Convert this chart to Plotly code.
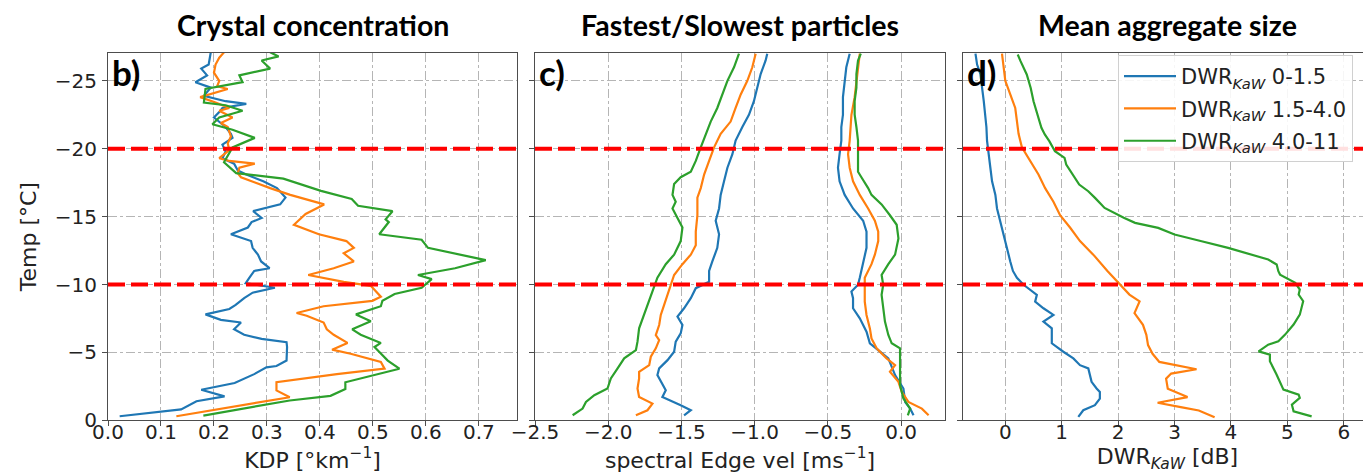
import plotly.graph_objects as go

# ---------------- data ----------------
# Panel b) KDP [deg/km] vs temperature
t_kdp_lo = [-0.3, -0.8, -1.4, -1.76, -2.25, -2.75, -3.4, -3.9, -4.0, -4.4, -5.4, -5.75, -6.0, -6.3, -6.7, -7.2, -7.4, -7.8, -8.2, -8.5, -9.0, -9.4, -9.76, -10.1, -10.5, -11.0, -11.2, -11.7, -12.2, -12.7, -13.2, -13.7, -14.2, -14.6, -14.9, -15.4, -15.9, -16.4, -17.1, -17.6, -18.1, -18.4, -18.9, -19.3, -19.8, -20.3, -20.8, -21.1, -21.6, -21.9, -22.3, -22.7, -23.0, -23.3, -23.5, -23.9, -24.5, -24.9, -25.4, -25.9, -26.2, -27.1]
kdp_lo = [0.022, 0.138, 0.167, 0.22, 0.176, 0.239, 0.276, 0.299, 0.318, 0.337, 0.338, 0.337, 0.29, 0.257, 0.238, 0.251, 0.213, 0.184, 0.229, 0.241, 0.257, 0.273, 0.315, 0.26, 0.267, 0.276, 0.305, 0.289, 0.283, 0.273, 0.27, 0.232, 0.264, 0.271, 0.29, 0.274, 0.325, 0.335, 0.319, 0.293, 0.261, 0.245, 0.238, 0.216, 0.222, 0.216, 0.235, 0.232, 0.222, 0.213, 0.2, 0.21, 0.216, 0.261, 0.222, 0.181, 0.194, 0.165, 0.187, 0.176, 0.19, 0.194]

t_kdp_mid = [-0.3, -0.7, -1.2, -1.7, -2.2, -2.8, -3.4, -3.8, -4.3, -4.9, -5.2, -5.7, -6.3, -6.7, -7.2, -7.7, -7.9, -8.4, -8.8, -9.1, -9.9, -10.2, -10.7, -11.2, -11.7, -12.3, -12.7, -13.2, -13.7, -14.4, -15.2, -15.9, -16.6, -17.1, -17.9, -18.2, -18.6, -18.9, -19.1, -19.3, -19.9, -20.4, -20.9, -21.6, -21.9, -22.3, -22.8, -23.0, -23.4, -23.8, -24.4, -24.6, -25.0, -25.6, -26.2, -26.7, -27.1]
kdp_mid = [0.129, 0.19, 0.267, 0.343, 0.318, 0.318, 0.432, 0.522, 0.515, 0.458, 0.423, 0.452, 0.426, 0.413, 0.407, 0.375, 0.356, 0.407, 0.499, 0.515, 0.496, 0.445, 0.378, 0.426, 0.464, 0.445, 0.464, 0.45, 0.398, 0.351, 0.373, 0.408, 0.344, 0.306, 0.251, 0.245, 0.248, 0.277, 0.229, 0.21, 0.229, 0.226, 0.232, 0.226, 0.213, 0.235, 0.21, 0.229, 0.203, 0.174, 0.226, 0.206, 0.21, 0.2, 0.203, 0.21, 0.219]

t_kdp_hi = [-0.35, -1.46, -1.8, -2.3, -2.8, -3.4, -3.8, -4.4, -5.4, -5.7, -6.3, -6.7, -7.3, -7.8, -8.4, -8.8, -9.3, -9.76, -10.4, -10.7, -11.2, -11.8, -12.3, -12.7, -13.3, -13.7, -14.6, -14.8, -15.4, -15.8, -16.3, -16.9, -17.8, -18.2, -19.0, -19.7, -20.1, -20.8, -21.4, -21.8, -22.3, -22.8, -23.2, -23.4, -24.4, -24.9, -25.4, -25.9, -26.5, -26.8, -27.1]
kdp_hi = [0.18, 0.343, 0.42, 0.448, 0.448, 0.506, 0.55, 0.528, 0.503, 0.515, 0.477, 0.461, 0.496, 0.468, 0.515, 0.518, 0.541, 0.592, 0.611, 0.585, 0.655, 0.713, 0.655, 0.604, 0.592, 0.512, 0.53, 0.524, 0.537, 0.472, 0.46, 0.402, 0.331, 0.242, 0.219, 0.229, 0.235, 0.277, 0.235, 0.197, 0.21, 0.254, 0.222, 0.181, 0.184, 0.254, 0.248, 0.306, 0.29, 0.322, 0.306]

# Panel c) spectral edge velocities [m/s] (fastest = left edge, slowest = right edge)
t_fast_lo = [-0.37, -0.74, -1.11, -1.72, -2.22, -2.83, -3.33, -3.82, -4.43, -5.05, -5.79, -6.4, -7.02, -7.64, -8.25, -8.99, -9.73, -10.2, -11.0, -11.7, -12.7, -13.7, -14.7, -15.6, -16.6, -17.6, -18.6, -19.6, -20.6, -21.6, -22.5, -23.5, -24.5, -25.5, -26.5, -27.0]
fast_lo = [-1.482, -1.436, -1.505, -1.63, -1.607, -1.641, -1.664, -1.652, -1.595, -1.55, -1.539, -1.505, -1.493, -1.527, -1.482, -1.436, -1.402, -1.311, -1.311, -1.289, -1.255, -1.243, -1.266, -1.243, -1.232, -1.209, -1.186, -1.152, -1.13, -1.084, -1.039, -1.005, -0.982, -0.959, -0.925, -0.914]

t_fast_mid = [-0.37, -0.74, -1.23, -1.72, -2.34, -3.08, -3.57, -4.06, -4.68, -5.3, -5.91, -6.28, -7.02, -7.76, -8.5, -9.24, -10.0, -10.7, -11.5, -12.2, -12.9, -13.9, -15.1, -16.4, -17.1, -18.1, -19.1, -20.1, -21.1, -22.0, -23.0, -24.0, -25.0, -26.0, -27.0]
fast_mid = [-1.811, -1.732, -1.698, -1.789, -1.8, -1.789, -1.789, -1.72, -1.709, -1.675, -1.652, -1.675, -1.652, -1.641, -1.618, -1.595, -1.573, -1.55, -1.493, -1.436, -1.402, -1.402, -1.391, -1.391, -1.368, -1.345, -1.311, -1.277, -1.232, -1.164, -1.13, -1.095, -1.05, -1.016, -0.993]

t_fast_hi = [-0.37, -0.86, -1.35, -1.85, -2.34, -3.08, -3.82, -4.56, -5.17, -5.79, -6.77, -7.76, -8.74, -9.73, -10.5, -11.5, -12.2, -13.2, -14.2, -14.9, -15.6, -16.1, -16.6, -17.4, -17.9, -18.3, -19.1, -20.1, -21.1, -22.0, -23.0, -24.0, -25.0, -26.0, -27.0]
fast_hi = [-2.243, -2.175, -2.152, -2.095, -2.005, -1.982, -1.936, -1.891, -1.811, -1.8, -1.789, -1.755, -1.72, -1.686, -1.664, -1.607, -1.55, -1.505, -1.493, -1.527, -1.561, -1.539, -1.561, -1.55, -1.505, -1.436, -1.402, -1.368, -1.334, -1.3, -1.255, -1.22, -1.186, -1.141, -1.107]

t_slow_lo = [-0.37, -0.86, -1.35, -2.34, -3.33, -3.94, -4.56, -5.17, -5.67, -6.53, -7.51, -8.25, -8.99, -9.48, -9.98, -10.5, -11.5, -12.7, -13.9, -14.7, -15.6, -16.6, -17.6, -18.6, -19.6, -20.6, -21.6, -22.5, -23.8, -25.0, -26.0, -27.0]
slow_lo = [0.085, 0.062, 0.028, 0.016, -0.041, -0.064, -0.087, -0.156, -0.213, -0.236, -0.282, -0.328, -0.328, -0.339, -0.294, -0.282, -0.259, -0.236, -0.236, -0.259, -0.328, -0.385, -0.42, -0.431, -0.42, -0.408, -0.408, -0.397, -0.397, -0.385, -0.374, -0.351]

t_slow_mid = [-0.37, -0.86, -1.35, -2.09, -2.83, -3.57, -4.06, -4.56, -5.3, -6.03, -6.77, -7.76, -8.74, -9.73, -10.5, -11.5, -12.2, -13.2, -13.9, -14.7, -15.6, -16.6, -17.6, -18.6, -19.6, -20.6, -21.6, -22.5, -23.8, -25.0, -26.0, -27.0]
slow_mid = [0.188, 0.142, 0.05, 0.005, -0.018, -0.076, -0.041, -0.099, -0.167, -0.202, -0.213, -0.236, -0.248, -0.248, -0.248, -0.202, -0.179, -0.156, -0.156, -0.179, -0.225, -0.282, -0.328, -0.351, -0.362, -0.351, -0.344, -0.339, -0.317, -0.305, -0.294, -0.282]

t_slow_hi = [-0.37, -0.86, -1.6, -2.59, -3.57, -4.56, -5.3, -5.67, -6.28, -7.27, -8.25, -9.24, -9.98, -10.7, -11.5, -12.2, -13.4, -14.4, -15.1, -15.9, -16.6, -17.1, -17.9, -18.3, -19.6, -20.6, -21.6, -22.5, -23.5, -24.5, -25.5, -26.5, -27.0]
slow_hi = [0.046, 0.062, 0.016, -0.007, -0.007, -0.007, -0.007, -0.064, -0.087, -0.11, -0.122, -0.133, -0.122, -0.133, -0.087, -0.041, -0.018, -0.03, -0.076, -0.133, -0.202, -0.225, -0.271, -0.294, -0.294, -0.294, -0.305, -0.317, -0.317, -0.305, -0.305, -0.294, -0.275]

# Panel d) DWR_KaW [dB]
t_dwr_lo = [-0.25, -0.74, -1.11, -1.6, -2.09, -2.34, -2.83, -3.33, -3.82, -4.06, -4.56, -5.05, -5.67, -6.28, -6.77, -7.27, -7.76, -8.25, -8.74, -9.24, -9.61, -9.98, -10.5, -11.0, -11.7, -12.7, -13.7, -14.7, -15.6, -16.6, -17.6, -18.6, -19.6, -20.6, -21.6, -22.5, -23.5, -24.5, -25.5, -26.2, -27.0]
dwr_lo = [1.294, 1.382, 1.588, 1.676, 1.676, 1.618, 1.529, 1.5, 1.471, 1.324, 1.206, 1.029, 0.824, 0.824, 0.824, 0.676, 0.853, 0.676, 0.529, 0.559, 0.441, 0.324, 0.206, 0.135, 0.088, 0.029, -0.029, -0.088, -0.147, -0.176, -0.235, -0.265, -0.294, -0.324, -0.335, -0.353, -0.382, -0.412, -0.441, -0.5, -0.529]

t_dwr_mid = [-0.22, -0.72, -0.97, -1.29, -1.71, -2.33, -3.07, -3.44, -3.76, -4.06, -4.3, -4.9, -5.54, -6.29, -7.03, -7.9, -8.76, -9.26, -10.0, -11.0, -12.2, -13.2, -14.2, -15.1, -16.1, -17.1, -18.1, -19.1, -20.1, -21.1, -22.0, -23.0, -24.0, -25.0, -26.0, -27.0]
dwr_mid = [3.71, 3.43, 3.11, 2.70, 3.23, 2.88, 2.85, 2.94, 3.39, 3.05, 2.73, 2.61, 2.53, 2.5, 2.44, 2.29, 2.38, 2.2, 2.03, 1.81, 1.559, 1.324, 1.147, 0.971, 0.853, 0.706, 0.588, 0.441, 0.294, 0.235, 0.206, 0.176, 0.088, 0.0, -0.029, -0.059]

t_dwr_hi = [-0.29, -0.66, -1.15, -1.65, -1.89, -2.26, -3.36, -4.35, -4.84, -5.08, -5.57, -5.82, -6.31, -7.05, -7.78, -8.40, -8.77, -9.26, -9.63, -10.12, -10.73, -10.98, -11.47, -11.84, -12.21, -12.70, -13.19, -13.68, -14.17, -14.54, -14.91, -15.64, -16.38, -16.87, -17.36, -18.10, -18.84, -19.33, -19.82, -20.56, -21.05, -21.54, -22.52, -23.50, -24.48, -25.47, -26.45, -26.94]
dwr_hi = [5.43, 5.11, 5.08, 5.22, 5.2, 4.93, 4.81, 4.69, 4.69, 4.49, 4.66, 4.84, 4.96, 5.11, 5.22, 5.25, 5.28, 5.2, 5.22, 5.14, 4.87, 4.84, 4.81, 4.66, 4.37, 3.95, 3.48, 3.0, 2.71, 2.30, 2.10, 1.76, 1.59, 1.47, 1.31, 1.20, 1.08, 1.05, 0.88, 0.78, 0.70, 0.64, 0.57, 0.50, 0.45, 0.38, 0.27, 0.22]

hline_temps = [-20, -10]
panel_titles = ["Crystal concentration", "Fastest/Slowest particles", "Mean aggregate size"]
panel_labels = ["b)", "c)", "d)"]
class_names = ["DWR<sub><i>KaW</i></sub> 0-1.5", "DWR<sub><i>KaW</i></sub> 1.5-4.0", "DWR<sub><i>KaW</i></sub> 4.0-11"]
colors = ["#1f77b4", "#ff7f0e", "#2ca02c"]

# ---------------- figure ----------------
W, H = 1371, 475
fig = go.Figure()
LW = 2.2

kdp_sets = [(t_kdp_lo, kdp_lo), (t_kdp_mid, kdp_mid), (t_kdp_hi, kdp_hi)]
fast_sets = [(t_fast_lo, fast_lo), (t_fast_mid, fast_mid), (t_fast_hi, fast_hi)]
slow_sets = [(t_slow_lo, slow_lo), (t_slow_mid, slow_mid), (t_slow_hi, slow_hi)]
dwr_sets = [(t_dwr_lo, dwr_lo), (t_dwr_mid, dwr_mid), (t_dwr_hi, dwr_hi)]

for i in range(3):
    g = f"g{i}"
    t, v = kdp_sets[i]
    fig.add_trace(go.Scatter(x=v, y=t, mode="lines", line=dict(color=colors[i], width=LW),
                             xaxis="x", yaxis="y", showlegend=False, legendgroup=g))
    t, v = fast_sets[i]
    fig.add_trace(go.Scatter(x=v, y=t, mode="lines", line=dict(color=colors[i], width=LW),
                             xaxis="x2", yaxis="y2", showlegend=False, legendgroup=g))
    t, v = slow_sets[i]
    fig.add_trace(go.Scatter(x=v, y=t, mode="lines", line=dict(color=colors[i], width=LW),
                             xaxis="x2", yaxis="y2", showlegend=False, legendgroup=g))
    t, v = dwr_sets[i]
    fig.add_trace(go.Scatter(x=v, y=t, mode="lines", line=dict(color=colors[i], width=LW),
                             xaxis="x3", yaxis="y3", showlegend=True, name=class_names[i],
                             legendgroup=g))

xdoms = [(100, 509), (527, 937), (955, 1364)]
ydom = [1 - 412.3 / H, 1 - 45 / H]

tickfont = dict(family="DejaVu Sans", size=20, color="#222")
titlefont = dict(family="DejaVu Sans", size=22, color="#222")
common = dict(showline=True, mirror=True, linecolor="#4d4d4d", linewidth=1.2,
              ticks="outside", ticklen=5, tickwidth=1.1, tickcolor="#4d4d4d",
              showgrid=True, gridcolor="#b5b5b5", gridwidth=1, griddash="dashdot",
              zeroline=False, tickfont=tickfont, automargin=False)

xtitles = ["KDP [°km<sup>−1</sup>]", "spectral Edge vel [ms<sup>−1</sup>]", "DWR<sub><i>KaW</i></sub> [dB]"]
xranges = [[0, 0.772], [-2.5, 0.3], [-0.75, 6.5]]
xticks = [dict(tickvals=[0, 0.1, 0.2, 0.3, 0.4, 0.5, 0.6, 0.7], tickformat=".1f"),
          dict(tickvals=[-2.5, -2.0, -1.5, -1.0, -0.5, 0.0], tickformat=".1f"),
          dict(tickvals=[0, 1, 2, 3, 4, 5, 6], tickformat="d")]
yticks = [0, -5, -10, -15, -20, -25]

layout = dict(width=W, height=H, margin=dict(l=0, r=0, t=0, b=0),
              paper_bgcolor="white", plot_bgcolor="white")
for i in range(3):
    sx = "" if i == 0 else str(i + 1)
    layout["xaxis" + sx] = dict(common, domain=[xdoms[i][0] / W, xdoms[i][1] / W],
                                range=xranges[i], anchor="y" + sx, ticklabelstandoff=-11,
                                title=dict(text=xtitles[i], font=titlefont, standoff=0),
                                **xticks[i])
    layout["yaxis" + sx] = dict(common, domain=ydom, range=[0, -27.05], anchor="x" + sx,
                                tickvals=yticks, showticklabels=(i == 0), ticklabelstandoff=1,
                                title=dict(text="Temp [°C]" if i == 0 else "", font=titlefont, standoff=11))
fig.update_layout(**layout)

# reference temperature lines
shapes = []
for i in range(3):
    sx = "" if i == 0 else str(i + 1)
    for tv in hline_temps:
        shapes.append(dict(type="line", xref="x" + sx + " domain", yref="y" + sx,
                           x0=0, x1=1, y0=tv, y1=tv,
                           line=dict(color="#ff0000", width=4, dash="17px,6px")))
fig.update_layout(shapes=shapes)

annotations = []
centers = [(a + b) / 2 for a, b in xdoms]
for i in range(3):
    sx = "" if i == 0 else str(i + 1)
    annotations.append(dict(text="<b>" + panel_titles[i] + "</b>", xref="paper", yref="paper",
                            x=centers[i] / W, y=1 - 17 / H, xanchor="center", yanchor="middle",
                            showarrow=False, font=dict(family="Lato", size=28.5, color="black")))
    annotations.append(dict(text="<b>" + panel_labels[i] + "</b>", xref="x" + sx + " domain",
                            yref="y" + sx + " domain", x=0.006, y=0.948, xanchor="left",
                            yanchor="middle", showarrow=False,
                            font=dict(family="Lato", size=35, color="black")))
fig.update_layout(annotations=annotations)

fig.update_layout(legend=dict(x=1110 / W, y=1 - 47 / H, xanchor="left", yanchor="top",
                              bgcolor="rgba(255,255,255,0.88)", bordercolor="#d0d0d0",
                              borderwidth=1, font=dict(family="DejaVu Sans", size=21, color="#222"),
                              tracegroupgap=2, itemwidth=52))

fig.write_html("out.html")
